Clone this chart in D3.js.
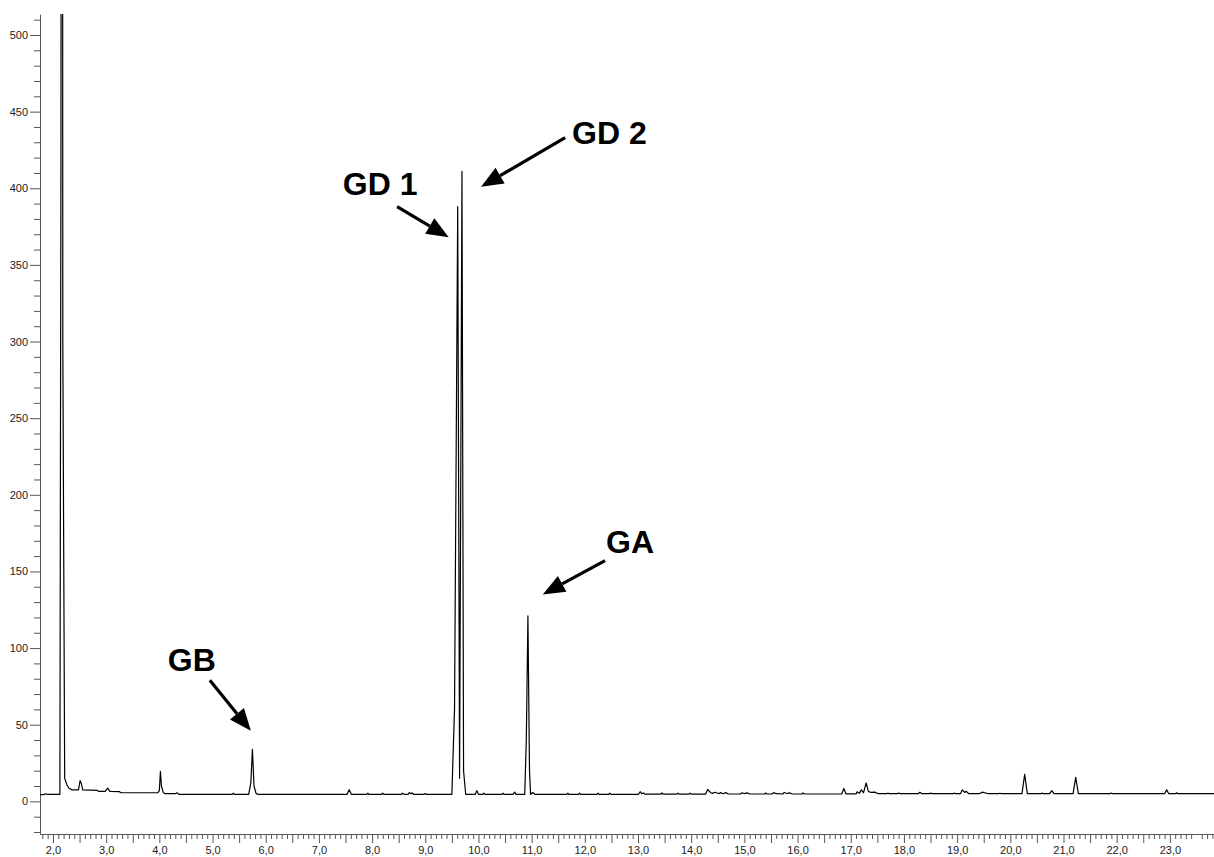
<!DOCTYPE html>
<html>
<head>
<meta charset="utf-8">
<script src="https://cdn.jsdelivr.net/npm/d3@7"></script>
<style>
  body { margin: 0; background: #fff; }
  svg { display: block; }
  .axis path, .axis line { stroke: #555; }
  .axis text { font-family: "Liberation Sans", Arial, sans-serif; font-size: 11px; fill: #222; }
  .label { font-family: "Liberation Sans", Arial, sans-serif; font-weight: bold; font-size: 32px; }
</style>
</head>
<body>
<svg id="chart"></svg>
<script>
// retention time (min) and detector signal
const rt = [
  1.76, 1.83, 1.86, 1.89, 2.13, 2.15, 2.17, 2.185, 2.22, 2.26, 2.30, 2.36, 2.48, 2.51, 2.53, 2.56,
  2.83, 2.86, 2.98, 3.03, 3.07, 3.25, 3.28, 3.97, 4.00, 4.02, 4.04, 4.07, 4.10, 4.30, 4.33, 4.37,
  5.37, 5.39, 5.41, 5.68, 5.72, 5.75, 5.78, 5.82, 5.86,
  7.53, 7.57, 7.61, 7.90, 7.92, 7.94, 8.18, 8.20, 8.22, 8.55, 8.57, 8.60, 8.68, 8.70, 8.73, 8.75, 8.78,
  8.98, 9.00, 9.02, 9.50, 9.55, 9.61, 9.645, 9.69, 9.72, 9.76,
  9.94, 9.97, 10.00, 10.08, 10.10, 10.12, 10.44, 10.46, 10.48, 10.65, 10.68, 10.71,
  10.87, 10.90, 10.93, 10.96, 10.98, 11.02, 11.06,
  11.66, 11.68, 11.70, 11.88, 11.90, 11.92, 12.23, 12.25, 12.27, 12.45, 12.47, 12.49,
  13.01, 13.04, 13.07, 13.10, 13.13, 13.43, 13.45, 13.47, 13.73, 13.75, 13.77, 13.96, 13.98, 14.00,
  14.27, 14.31, 14.36, 14.40, 14.45, 14.52, 14.55, 14.60, 14.65, 14.70, 14.93, 14.95, 15.00, 15.05, 15.10,
  15.38, 15.40, 15.42, 15.52, 15.55, 15.60, 15.72, 15.75, 15.80, 15.85, 15.90, 16.08, 16.10, 16.13,
  16.83, 16.87, 16.91, 17.10, 17.12, 17.16, 17.20, 17.24, 17.29, 17.33, 17.38, 17.45, 17.52,
  17.68, 17.70, 17.72, 17.88, 17.90, 17.93, 18.27, 18.30, 18.34, 18.48, 18.50, 18.53,
  18.93, 18.95, 18.97, 19.06, 19.10, 19.14, 19.17, 19.22, 19.42, 19.47, 19.52, 19.56, 19.62,
  19.78, 19.80, 19.83, 20.22, 20.27, 20.32, 20.58, 20.60, 20.62, 20.74, 20.78, 20.82,
  21.18, 21.23, 21.28, 21.88, 21.90, 21.92, 22.90, 22.94, 22.98, 23.11, 23.13, 23.15, 23.83
];
const signal = [
  4.4, 4.4, 5.0, 4.6, 4.6, 420, 1400, 300, 15, 11, 8.5, 7.5, 7.5, 13.5, 12, 7.5,
  7.2, 6.5, 6.5, 8.6, 6.5, 6.3, 5.6, 5.6, 7.0, 19.5, 10, 6.0, 5.0, 5.0, 5.6, 4.6,
  4.6, 5.3, 4.6, 4.6, 12, 34, 10, 5.0, 4.6,
  4.6, 7.6, 4.6, 4.6, 5.3, 4.6, 4.6, 5.4, 4.6, 4.6, 5.3, 4.6, 4.6, 5.7, 5.0, 5.5, 4.6,
  4.6, 5.1, 4.6, 4.6, 60, 388, 15, 411, 20, 4.6,
  4.6, 7.0, 4.6, 4.6, 5.4, 4.6, 4.6, 5.3, 4.6, 4.6, 6.0, 4.6,
  4.6, 40, 121, 20, 4.6, 5.8, 4.6,
  4.6, 5.3, 4.6, 4.6, 5.4, 4.6, 4.6, 5.3, 4.6, 4.6, 5.3, 4.6,
  4.6, 6.3, 5.0, 5.5, 4.7, 4.7, 5.6, 4.7, 4.7, 5.4, 4.7, 4.7, 5.4, 4.7,
  4.7, 7.8, 5.8, 5.2, 5.9, 5.0, 5.7, 5.0, 5.7, 4.8, 4.8, 5.6, 5.0, 5.5, 4.8,
  4.8, 5.4, 4.8, 4.8, 5.7, 5.0, 4.8, 5.8, 5.1, 5.5, 4.8, 4.8, 5.5, 4.8,
  4.8, 8.4, 4.9, 4.9, 6.2, 5.2, 7.5, 5.6, 12, 6.5, 5.8, 6.0, 5.0,
  5.0, 5.4, 5.0, 5.0, 5.5, 5.0, 5.0, 5.9, 5.0, 5.0, 5.4, 5.0,
  5.0, 5.4, 5.0, 5.0, 7.5, 5.8, 6.6, 5.0, 5.0, 6.0, 5.6, 5.2, 5.0,
  5.0, 5.3, 5.0, 5.0, 17.6, 5.0, 5.0, 5.4, 5.0, 5.0, 7.0, 5.0,
  5.0, 15.7, 5.0, 5.0, 5.4, 5.0, 5.0, 7.5, 5.0, 5.0, 5.6, 5.0, 5.0
];

const yMajor = [0, 50, 100, 150, 200, 250, 300, 350, 400, 450, 500];
const xMajor = [2, 3, 4, 5, 6, 7, 8, 9, 10, 11, 12, 13, 14, 15, 16, 17, 18, 19, 20, 21, 22, 23];

// peak labels and arrows, in data units (time, signal)
const labels = [
  { text: "GD 2", x: 11.76, y: 436, from: [11.63, 433], to: [10.05, 401] },
  { text: "GD 1", x: 7.45, y: 403, from: [8.47, 388], to: [9.44, 368] },
  { text: "GB", x: 4.16, y: 92, from: [4.95, 79], to: [5.72, 46] },
  { text: "GA", x: 12.40, y: 169, from: [12.38, 157], to: [11.21, 135] }
];

const width = 1214, height = 857;
const plotLeft = 40, plotRight = 1214, plotTop = 14, plotBottom = 834;

const svg = d3.select("#chart").attr("width", width).attr("height", height);

const x = d3.scaleLinear().domain([1.756, 23.83]).range([plotLeft, plotRight]);
const y = d3.scaleLinear().domain([-21.3, 513.7]).range([plotBottom, plotTop]);

svg.append("defs").append("clipPath").attr("id", "plot")
  .append("rect").attr("x", plotLeft).attr("y", plotTop)
  .attr("width", plotRight - plotLeft).attr("height", plotBottom - plotTop);

// minor ticks
const yMinor = d3.range(-20, 511, 10).filter(v => v % 50 !== 0);
const xMinor = d3.range(18, 239).map(v => v / 10).filter(v => Math.round(v * 10) % 5 !== 0);
const xHalf = d3.range(2, 24).map(v => v - 0.5).filter(v => v > 1.756);

svg.append("g").attr("class", "axis")
  .attr("transform", `translate(${plotLeft},0)`)
  .call(d3.axisLeft(y).tickValues(yMinor).tickSize(6).tickFormat(""))
  .call(g => g.select(".domain").remove());

svg.append("g").attr("class", "axis")
  .attr("transform", `translate(${plotLeft},0)`)
  .call(d3.axisLeft(y).tickValues(yMajor).tickSize(10).tickSizeOuter(0).tickPadding(2).tickFormat(d3.format("d")));

svg.append("g").attr("class", "axis")
  .attr("transform", `translate(0,${plotBottom})`)
  .call(d3.axisBottom(x).tickValues(xMinor).tickSize(5).tickFormat(""))
  .call(g => g.select(".domain").remove());

svg.append("g").attr("class", "axis")
  .attr("transform", `translate(0,${plotBottom})`)
  .call(d3.axisBottom(x).tickValues(xHalf).tickSize(9).tickFormat(""))
  .call(g => g.select(".domain").remove());

svg.append("g").attr("class", "axis")
  .attr("transform", `translate(0,${plotBottom})`)
  .call(d3.axisBottom(x).tickValues(xMajor).tickSize(9).tickSizeOuter(0).tickPadding(3)
    .tickFormat(d => d3.format(".1f")(d).replace(".", ",")));

// chromatogram trace
const line = d3.line().x((d, i) => x(rt[i])).y(d => y(d));
svg.append("path")
  .attr("clip-path", "url(#plot)")
  .attr("d", line(signal))
  .attr("fill", "none")
  .attr("stroke", "#000")
  .attr("stroke-width", 1.2)
  .attr("stroke-linejoin", "round");

// arrows and peak names
const ann = svg.append("g");
labels.forEach(d => {
  const x1 = x(d.from[0]), y1 = y(d.from[1]);
  const x2 = x(d.to[0]), y2 = y(d.to[1]);
  const a = Math.atan2(y2 - y1, x2 - x1);
  const len = 22, half = 9;
  const bx = x2 - len * Math.cos(a), by = y2 - len * Math.sin(a);
  ann.append("line")
    .attr("x1", x1).attr("y1", y1).attr("x2", bx).attr("y2", by)
    .attr("stroke", "#000").attr("stroke-width", 3.2);
  ann.append("path")
    .attr("d", `M${x2},${y2}L${bx + half * Math.sin(a)},${by - half * Math.cos(a)}L${bx - half * Math.sin(a)},${by + half * Math.cos(a)}Z`)
    .attr("fill", "#000");
  ann.append("text")
    .attr("class", "label")
    .attr("x", x(d.x)).attr("y", y(d.y))
    .attr("dominant-baseline", "central")
    .text(d.text);
});
</script>
</body>
</html>
